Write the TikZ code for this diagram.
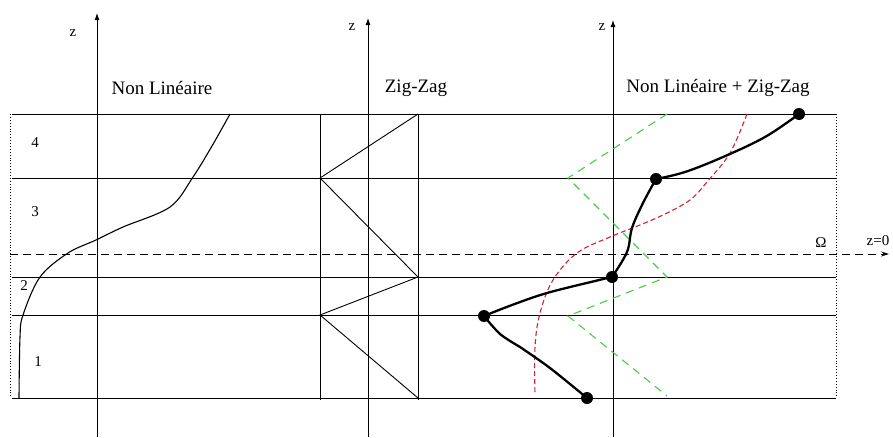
\documentclass[tikz,border=0pt]{standalone}
\usepackage{fontspec}
\setmainfont{Liberation Serif}
\usetikzlibrary{arrows.meta}
\definecolor{rd}{RGB}{205,35,55}
\definecolor{gr}{RGB}{70,205,70}
\tikzset{
  ln/.style={line width=0.9pt,black},
  axis/.style={line width=0.9pt,-{Latex[length=7pt,width=5pt]}},
  dotline/.style={line width=0.9pt,dotted},
  lbl/.style={font=\fontsize{15}{18}\selectfont,inner sep=0pt},
  ttl/.style={font=\fontsize{19}{22}\selectfont,inner sep=0pt},
  dotnode/.style={circle,fill=black,inner sep=0pt,minimum size=12pt},
  boldcurve/.style={line width=2.3pt,line join=round,line cap=round},
  nlcurve/.style={line width=1.1pt},
  rdash/.style={rd,line width=1.1pt,dash pattern=on 5pt off 3pt},
  gdash/.style={gr,line width=1.1pt,dash pattern=on 8pt off 6pt},
  omline/.style={line width=0.9pt,dash pattern=on 8pt off 5pt,-{Stealth[length=8pt,width=5pt]}}
}
\begin{document}
\begin{tikzpicture}[x=1pt,y=-1pt]
\useasboundingbox (0,0) rectangle (893,437);
% horizontal layer lines
\foreach \yy [count=\i] in {114,178,277,315,398}{
  \coordinate (hl\i) at (12,\yy);
  \coordinate (hr\i) at (836,\yy);
  \draw[ln] (hl\i) -- (hr\i);
}
% dotted borders
\coordinate (bl1) at (10,114); \coordinate (bl2) at (10,398);
\coordinate (br1) at (836,114); \coordinate (br2) at (836,398);
\draw[dotline] (bl1) -- (bl2);
\draw[dotline] (br1) -- (br2);
% dashed z=0 line
\coordinate (omL) at (10,254);
\coordinate (omR) at (889,254);
\draw[omline] (omL) -- (omR);
% axes
\coordinate (a1b) at (97,437); \coordinate (a1t) at (97,13);
\coordinate (a2b) at (368,437); \coordinate (a2t) at (368,18);
\coordinate (a3b) at (613,437); \coordinate (a3t) at (613,20);
\draw[axis] (a1b) -- (a1t);
\draw[axis] (a2b) -- (a2t);
\draw[axis] (a3b) -- (a3t);
\node[lbl] (z1) at (73,33) {z};
\node[lbl] (z2) at (352,27) {z};
\node[lbl] (z3) at (602,27) {z};
% titles
\node[ttl] (t1) at (162,88) {Non Linéaire};
\node[ttl] (t2) at (416,88) {Zig-Zag};
\node[ttl] (t3) at (718,88) {Non Linéaire + Zig-Zag};
% layer numbers
\node[lbl] (n4) at (35,143) {4};
\node[lbl] (n3) at (35,212) {3};
\node[lbl] (n2) at (24,286) {2};
\node[lbl] (n1) at (38,362) {1};
\node[lbl] (om) at (821,243) {Ω};
\node[lbl] (zz0) at (878,241) {z=0};
% zig-zag verticals
\coordinate (v1t) at (320,114); \coordinate (v1b) at (320,400);
\coordinate (v2t) at (418,114); \coordinate (v2b) at (418,400);
\draw[ln] (v1t) -- (v1b);
\draw[ln] (v2t) -- (v2b);
% zig-zag
\coordinate (zA) at (418,114);
\coordinate (zB) at (320,178);
\coordinate (zC) at (418,277);
\coordinate (zD) at (320,315);
\coordinate (zE) at (418,398);
\draw[ln] (zA) -- (zB) -- (zC) -- (zD) -- (zE);
% non linear curve
\draw[nlcurve] plot[smooth,tension=0.55] coordinates {(230,114) (212,146) (193,177) (170,207) (123,227) (96,240) (68,253) (40,277) (23,315) (20,337) (19,398)};
% green dashed zigzag
\coordinate (gA) at (667,114);
\coordinate (gB) at (568,178);
\coordinate (gC) at (667,277);
\coordinate (gD) at (568,316);
\coordinate (gE) at (667,396);
\draw[gdash] (gA) -- (gB) -- (gC) -- (gD) -- (gE);
% red dashed curve
\draw[rdash] plot[smooth,tension=0.6] coordinates {(747,114) (730,153) (707,182) (690,200) (665,214) (640,225) (610,237) (577,253) (553,280) (540,313) (535,347) (535,394)};
% black curve with dots
\node[dotnode] (d1) at (799,114) {};
\node[dotnode] (d2) at (656,179) {};
\node[dotnode] (d3) at (612,277) {};
\node[dotnode] (d4) at (484,316) {};
\node[dotnode] (d5) at (587,398) {};
\draw[boldcurve] plot[smooth,tension=0.6] coordinates {(d1.center) (765,137) (723,157) (685,172) (d2.center)};
\draw[boldcurve] plot[smooth,tension=0.6] coordinates {(d2.center) (643,203) (632,228) (627,252) (d3.center)};
\draw[boldcurve] plot[smooth,tension=0.6] coordinates {(d3.center) (595,281) (547,293) (512,305) (d4.center)};
\draw[boldcurve] plot[smooth,tension=0.5] coordinates {(d4.center) (500,334) (520,347)};
\draw[boldcurve] plot[smooth,tension=0.5] coordinates {(520,347) (550,368) (d5.center)};
\end{tikzpicture}
\end{document}
